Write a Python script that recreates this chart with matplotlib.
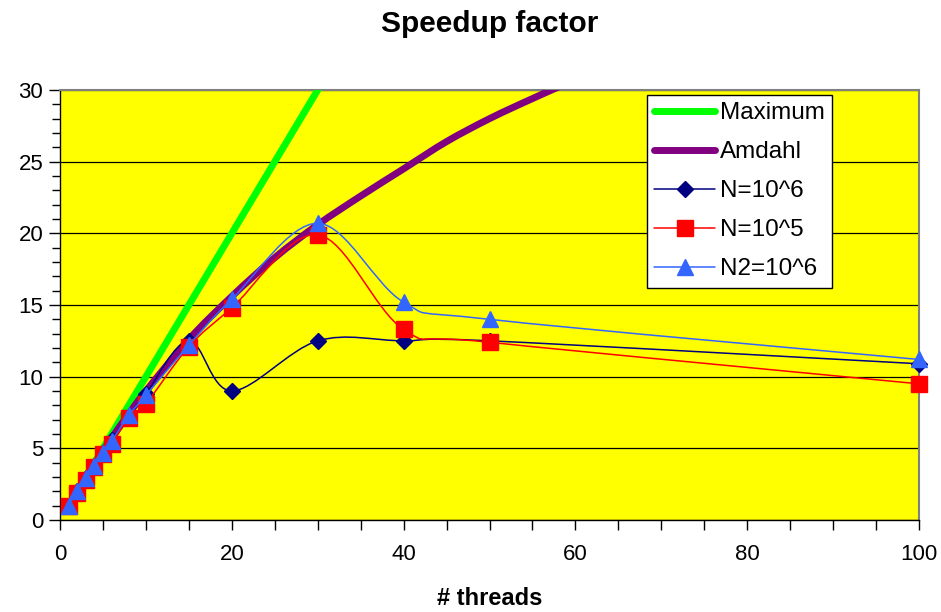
import numpy as np
import matplotlib
matplotlib.use("Agg")
import matplotlib.pyplot as plt
from matplotlib.path import Path
from matplotlib.patches import PathPatch
from matplotlib.lines import Line2D
from matplotlib.ticker import MultipleLocator

plt.rcParams["font.family"] = ["Liberation Sans", "DejaVu Sans"]

# thread counts measured
threads = [1, 2, 3, 4, 5, 6, 8, 10, 15, 20, 30, 40, 50, 100]

maximum = [1, 2, 3, 4, 5, 6, 8, 10, 15, 20, 30, 40, 50, 100]
n_1e6 = [1, 2, 2.9, 3.8, 4.7, 5.6, 7.2, 8.8, 12.5, 9.0, 12.5, 12.5, 12.5, 10.9]
n_1e5 = [1, 1.9, 2.8, 3.7, 4.6, 5.3, 7.1, 8.1, 12.1, 14.8, 19.9, 13.3, 12.4, 9.5]
n2_1e6 = [1, 2, 2.9, 3.8, 4.7, 5.5, 7.3, 8.7, 12.2, 15.4, 20.7, 15.2, 14.0, 11.2]

# Amdahl curve sampled more finely
amdahl_threads = [1, 2, 3, 4, 5, 6, 8, 10, 15, 20, 25, 30, 35, 40, 45,
                  50, 55, 60, 70]
amdahl = [1, 2, 3, 3.9, 4.8, 5.7, 7.4, 9.0, 12.6, 15.6, 18.3, 20.6, 22.6,
          24.5, 26.4, 28.0, 29.4, 30.7, 33.0]


def smooth_path(x, y):
    # Excel-like smoothed line: Catmull-Rom segments as cubic Beziers
    pts = np.column_stack([x, y]).astype(float)
    n = len(pts)
    verts = [pts[0]]
    codes = [Path.MOVETO]
    for i in range(n - 1):
        p0 = pts[i - 1] if i > 0 else pts[i]
        p1 = pts[i]
        p2 = pts[i + 1]
        p3 = pts[i + 2] if i + 2 < n else pts[i + 1]
        c1 = p1 + (p2 - p0) / 6.0
        c2 = p2 - (p3 - p1) / 6.0
        verts += [c1, c2, p2]
        codes += [Path.CURVE4] * 3
    return Path(verts, codes)


fig = plt.figure(figsize=(9.41, 6.12), dpi=100)
ax = fig.add_axes([60 / 941, 92 / 612, 859 / 941, 430 / 612])
ax.set_facecolor("#FFFF00")

series = [
    ("Maximum", threads, maximum, "#00FF00", 5.0, None, 0),
    ("Amdahl", amdahl_threads, amdahl, "#800080", 5.0, None, 0),
    ("N=10^6", threads, n_1e6, "#000080", 1.1, "D", 8.5),
    ("N=10^5", threads, n_1e5, "#FF0000", 1.1, "s", 11.5),
    ("N2=10^6", threads, n2_1e6, "#3366FF", 1.1, "^", 12),
]

handles = []
for i, (label, xs, vals, color, lw, marker, ms) in enumerate(series):
    patch = PathPatch(smooth_path(xs, vals), facecolor="none",
                      edgecolor=color, lw=lw, zorder=3 + i,
                      capstyle="round", joinstyle="round")
    ax.add_patch(patch)
    if marker:
        ax.plot(xs, vals, ls="none", marker=marker, ms=ms,
                color=color, mec=color, zorder=3 + i, clip_on=False)
    handles.append(Line2D([], [], color=color, lw=lw, marker=marker,
                          ms=ms if marker else 0, solid_capstyle="round"))

ax.set_xlim(0, 100)
ax.set_ylim(0, 30)
ax.xaxis.set_major_locator(MultipleLocator(20))
ax.xaxis.set_minor_locator(MultipleLocator(5))
ax.yaxis.set_major_locator(MultipleLocator(5))
ax.yaxis.set_minor_locator(MultipleLocator(1))
ax.tick_params(which="both", direction="out", labelsize=16, width=1)
ax.tick_params(which="major", length=8)
ax.tick_params(which="minor", length=6)
ax.tick_params(axis="x", which="both", length=7, pad=10)
ax.tick_params(axis="y", pad=4)

ax.yaxis.grid(True, which="major", color="black", lw=0.9)
ax.set_axisbelow(True)

for side in ["top", "right"]:
    ax.spines[side].set_color("#808080")
    ax.spines[side].set_linewidth(1.5)
for side in ["left", "bottom"]:
    ax.spines[side].set_color("black")
    ax.spines[side].set_linewidth(1.0)

ax.set_title("Speedup factor", fontsize=21.5, fontweight="bold", pad=42)
ax.set_xlabel("# threads", fontsize=17, fontweight="bold", labelpad=16)

leg = ax.legend(handles, [s[0] for s in series], loc="upper left",
                bbox_to_anchor=(587 / 859, 1.0 - 5 / 430), fontsize=17.5,
                frameon=True, fancybox=False, edgecolor="black",
                framealpha=1, handlelength=2.5, handletextpad=0.2,
                labelspacing=0.7, borderpad=0.3, borderaxespad=0)
leg.get_frame().set_linewidth(1.0)
leg.set_zorder(20)

fig.savefig("out.png", dpi=100, facecolor="white")
